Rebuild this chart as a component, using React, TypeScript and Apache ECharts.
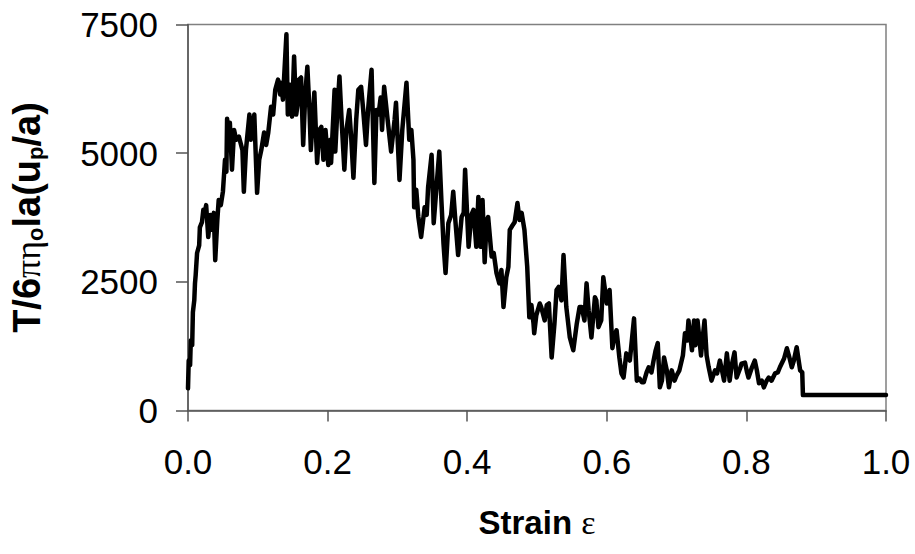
import React, { useEffect, useRef } from "react";
import * as echarts from "echarts";

// Strain ε (x) and normalised torque T/6πη₀la(uₚ/a) (y)
const strain = [
  0.000, 0.001, 0.003, 0.004, 0.006, 0.007, 0.009, 0.010, 0.011, 0.013,
  0.016, 0.017, 0.020, 0.022, 0.024, 0.026, 0.029, 0.032, 0.034, 0.037,
  0.039, 0.042, 0.044, 0.047, 0.050, 0.053, 0.055, 0.056, 0.059, 0.060,
  0.063, 0.066, 0.069, 0.073, 0.078, 0.080, 0.083, 0.088, 0.090, 0.095,
  0.099, 0.102, 0.105, 0.109, 0.112, 0.115, 0.119, 0.122, 0.125, 0.129,
  0.132, 0.133, 0.136, 0.141, 0.143, 0.146, 0.149, 0.152, 0.155, 0.158,
  0.159, 0.162, 0.165, 0.168, 0.171, 0.174, 0.176, 0.181, 0.185, 0.188,
  0.191, 0.194, 0.197, 0.201, 0.204, 0.205, 0.210, 0.211, 0.214, 0.217,
  0.220, 0.224, 0.227, 0.231, 0.234, 0.237, 0.241, 0.244, 0.248, 0.251,
  0.255, 0.258, 0.263, 0.267, 0.270, 0.273, 0.276, 0.278, 0.281, 0.286,
  0.291, 0.296, 0.298, 0.303, 0.307, 0.313, 0.317, 0.320, 0.323, 0.324,
  0.327, 0.330, 0.334, 0.339, 0.342, 0.344, 0.349, 0.352, 0.356, 0.360,
  0.363, 0.366, 0.369, 0.373, 0.377, 0.380, 0.383, 0.387, 0.392, 0.395,
  0.397, 0.402, 0.406, 0.409, 0.413, 0.416, 0.419, 0.422, 0.425, 0.428,
  0.430, 0.435, 0.438, 0.442, 0.446, 0.449, 0.452, 0.456, 0.459, 0.461,
  0.465, 0.468, 0.472, 0.475, 0.478, 0.482, 0.486, 0.489, 0.492, 0.495,
  0.496, 0.499, 0.504, 0.506, 0.511, 0.514, 0.517, 0.521, 0.525, 0.528,
  0.531, 0.535, 0.538, 0.542, 0.547, 0.550, 0.552, 0.557, 0.561, 0.564,
  0.568, 0.571, 0.574, 0.578, 0.583, 0.585, 0.588, 0.592, 0.595, 0.600,
  0.604, 0.608, 0.611, 0.614, 0.618, 0.621, 0.624, 0.628, 0.633, 0.639,
  0.643, 0.647, 0.650, 0.653, 0.657, 0.660, 0.664, 0.667, 0.670, 0.673,
  0.676, 0.679, 0.682, 0.686, 0.689, 0.693, 0.697, 0.700, 0.704, 0.709,
  0.712, 0.715, 0.717, 0.722, 0.725, 0.727, 0.730, 0.735, 0.737, 0.740,
  0.743, 0.746, 0.750, 0.755, 0.758, 0.762, 0.765, 0.768, 0.772, 0.776,
  0.779, 0.783, 0.786, 0.791, 0.793, 0.798, 0.801, 0.803, 0.808, 0.812,
  0.815, 0.818, 0.822, 0.825, 0.829, 0.832, 0.836, 0.841, 0.845, 0.848,
  0.854, 0.858, 0.862, 0.865, 0.868, 0.872, 0.877, 0.880, 0.881, 1.000,
];

const torque = [
  430, 970, 880, 1360, 1270, 1910, 2140, 2470, 2630, 3060,
  3210, 3560, 3660, 3900, 3840, 3990, 3370, 3800, 3510, 3840,
  2920, 3700, 4090, 3990, 4250, 4870, 4640, 5670, 5060, 5590,
  4680, 5450, 5260, 5320, 5060, 4250, 5060, 5750, 5260, 5750,
  4230, 4870, 5060, 5400, 5160, 5400, 5900, 5750, 6230, 6430,
  6140, 6370, 6040, 7310, 5750, 6330, 5710, 6880, 5750, 6040,
  6430, 6470, 5160, 6140, 6680, 5840, 5060, 6180, 4810, 5450,
  5510, 4870, 5450, 4770, 5260, 4810, 6230, 5030, 5840, 6490,
  5650, 4680, 5450, 5840, 5260, 4520, 5650, 6230, 6290, 5840,
  5160, 5840, 6620, 4420, 5840, 5750, 6080, 5450, 6290, 5650,
  5030, 5650, 5980, 4480, 5450, 6370, 5260, 5450, 4870, 3950,
  4290, 3760, 3370, 3950, 3800, 4340, 4970, 3640, 4340, 5030,
  4090, 3250, 2670, 3640, 3800, 4250, 3700, 3020, 3760, 3840,
  4680, 3180, 3800, 3900, 3180, 4150, 3180, 4090, 2880, 3700,
  3760, 2990, 3060, 2670, 2470, 2730, 2010, 2590, 2790, 3510,
  3600, 3660, 4030, 3700, 3840, 3510, 2790, 1810, 2050, 1690,
  1500, 1850, 2080, 2010, 1750, 2050, 2080, 1030, 1690, 2340,
  2400, 2140, 3020, 2010, 1420, 1270, 1170, 1690, 2010, 2010,
  1750, 2470, 1950, 1420, 2200, 2140, 1620, 1750, 2590, 2080,
  2340, 1210, 1460, 1560, 1030, 720, 640, 1110, 970, 1790,
  580, 620, 550, 550, 740, 840, 740, 970, 1170, 1310,
  450, 580, 1030, 780, 450, 780, 580, 680, 780, 1070,
  1500, 1360, 1750, 1170, 1750, 1270, 1750, 1070, 1360, 1750,
  1070, 840, 580, 780, 720, 970, 780, 580, 1110, 580,
  880, 1130, 640, 820, 910, 930, 740, 640, 840, 970,
  780, 530, 580, 450, 580, 640, 580, 720, 740, 840,
  1010, 1210, 1010, 840, 970, 1230, 780, 740, 300, 300,
];

const xTicks = [0, 0.2, 0.4, 0.6, 0.8, 1.0];
const yTicks = [0, 2500, 5000, 7500];

const FONT = "'Liberation Sans', Arial, Helvetica, sans-serif";
const GREEK = "'Liberation Serif', 'DejaVu Serif', serif";

export default function App() {
  const ref = useRef<HTMLDivElement>(null);

  useEffect(() => {
    if (!ref.current) return;
    const chart = echarts.init(ref.current, undefined, { renderer: "svg" });
    const data = strain.map((s, i) => [s, torque[i]]);
    chart.setOption({
      animation: false,
      backgroundColor: "#ffffff",
      textStyle: { fontFamily: FONT },
      grid: {
        left: 187,
        right: 29,
        top: 24.5,
        bottom: 143.5,
        show: true,
        borderColor: "#808080",
        borderWidth: 1.5,
        backgroundColor: "transparent",
      },
      xAxis: {
        type: "value",
        min: xTicks[0],
        max: xTicks[xTicks.length - 1],
        interval: 0.2,
        splitLine: { show: false },
        axisLine: { show: true, lineStyle: { color: "#555555", width: 1.5 } },
        axisTick: { show: true, inside: false, length: 11, lineStyle: { color: "#555555", width: 1.5 } },
        axisLabel: {
          color: "#000",
          fontSize: 35,
          fontFamily: FONT,
          margin: 33,
          formatter: (v: number) => v.toFixed(1),
        },
        name: "{b|Strain }{e|ε}",
        nameLocation: "middle",
        nameGap: 95,
        nameTextStyle: {
          rich: {
            b: { fontSize: 33, fontWeight: "bold", color: "#000", fontFamily: FONT },
            e: { fontSize: 34, color: "#000", fontFamily: GREEK },
          },
        },
      },
      yAxis: {
        type: "value",
        min: yTicks[0],
        max: yTicks[yTicks.length - 1],
        interval: 2500,
        splitLine: { show: false },
        axisLine: { show: true, lineStyle: { color: "#555555", width: 1.5 } },
        axisTick: { show: true, inside: false, length: 12, lineStyle: { color: "#555555", width: 1.5 } },
        axisLabel: {
          color: "#000",
          fontSize: 35,
          fontFamily: FONT,
          margin: 30,
          formatter: (v: number) => String(v),
        },
        name: "{b|T/6}{g|πη}{s|o}{b|la(u}{s|p}{b|/a)}",
        nameLocation: "middle",
        nameRotate: 90,
        nameGap: 142,
        nameTextStyle: {
          rich: {
            b: { fontSize: 38, fontWeight: "bold", color: "#000", fontFamily: FONT },
            g: { fontSize: 36, color: "#000", fontFamily: GREEK, verticalAlign: "bottom" },
            s: { fontSize: 22, fontWeight: "bold", color: "#000", fontFamily: FONT, verticalAlign: "bottom" },
          },
        },
      },
      series: [
        {
          type: "line",
          data,
          showSymbol: false,
          symbol: "none",
          lineStyle: { color: "#000000", width: 4.5, join: "round", cap: "round" },
          z: 3,
        },
      ],
    });
    return () => chart.dispose();
  }, []);

  return (
    <div
      ref={ref}
      style={{ position: "fixed", left: 0, top: 0, width: 915, height: 554, background: "#fff" }}
    />
  );
}
